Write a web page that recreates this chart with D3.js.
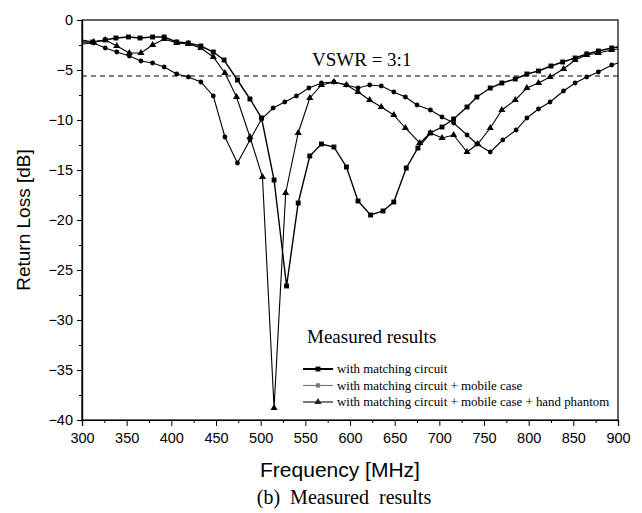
<!DOCTYPE html>
<html>
<head>
<meta charset="utf-8">
<script src="https://cdn.jsdelivr.net/npm/d3@7"></script>
<style>
  body { margin: 0; background: #fff; }
  svg { display: block; }
</style>
</head>
<body>
<svg id="chart" width="642" height="513"></svg>
<script>
// Measured return loss (MHz, dB)
const matchFreq = [300, 312, 326, 338, 352, 365, 379, 392, 406, 419, 433, 447, 459, 474, 488, 501, 515, 529, 542, 555, 568, 582, 596, 609, 623, 637, 649, 663, 676, 690, 703, 716, 731, 742, 757, 770, 785, 798, 811, 825, 838, 852, 865, 878, 893, 900];
const matchRL = [-2.2, -2.2, -2.0, -1.8, -1.7, -1.8, -1.7, -1.7, -2.2, -2.3, -2.6, -3.2, -4.0, -6.0, -7.9, -9.8, -16.0, -26.6, -18.3, -13.6, -12.4, -12.7, -14.7, -18.1, -19.5, -19.1, -18.2, -14.8, -12.8, -11.3, -10.7, -9.9, -8.7, -7.7, -6.8, -6.3, -5.9, -5.4, -5.1, -4.6, -4.2, -3.8, -3.4, -3.1, -2.8, -2.7];

const caseFreq = [300, 313, 326, 339, 353, 366, 379, 392, 406, 419, 433, 447, 460, 474, 488, 501, 514, 527, 540, 554, 568, 582, 596, 609, 622, 635, 649, 662, 675, 690, 703, 716, 731, 742, 757, 771, 786, 798, 811, 824, 839, 852, 865, 878, 893, 900];
const caseRL = [-2.4, -2.3, -2.8, -3.2, -3.6, -4.1, -4.3, -4.7, -5.4, -5.7, -6.2, -7.6, -11.7, -14.3, -12.0, -9.9, -8.8, -8.2, -7.6, -6.8, -6.3, -6.2, -6.5, -6.8, -6.5, -6.6, -7.2, -7.7, -8.5, -9.0, -9.7, -10.3, -11.5, -12.4, -13.2, -12.0, -11.0, -9.8, -8.9, -8.2, -7.1, -6.3, -5.7, -5.2, -4.5, -4.3];

const handFreq = [300, 313, 326, 339, 353, 366, 379, 392, 406, 419, 433, 447, 460, 473, 488, 502, 515, 528, 542, 555, 568, 582, 596, 609, 622, 635, 649, 662, 678, 690, 703, 716, 731, 743, 757, 770, 785, 798, 811, 824, 839, 852, 865, 878, 893, 900];
const handRL = [-2.0, -2.2, -2.0, -2.6, -3.3, -3.3, -2.5, -1.9, -2.3, -2.4, -2.8, -3.7, -5.3, -7.7, -11.7, -15.7, -38.8, -17.3, -11.3, -7.8, -6.5, -6.2, -6.5, -7.2, -8.0, -8.7, -9.5, -10.8, -12.3, -11.3, -11.8, -11.5, -13.2, -12.4, -10.8, -9.0, -8.0, -6.8, -6.3, -5.7, -4.9, -4.0, -3.5, -3.3, -3.0, -2.9];

const seriesNames = ["with matching circuit", "with matching circuit + mobile case", "with matching circuit + mobile case + hand phantom"];
const xTicks = [300, 350, 400, 450, 500, 550, 600, 650, 700, 750, 800, 850, 900];
const yTicks = [0, -5, -10, -15, -20, -25, -30, -35, -40];
const vswrLevel = -5.6;

const svg = d3.select("#chart"),
    margin = {top: 20, right: 24, bottom: 93, left: 82},
    width = 642 - margin.left - margin.right,
    height = 513 - margin.top - margin.bottom;

const g = svg.append("g").attr("transform", `translate(${margin.left},${margin.top})`);

const x = d3.scaleLinear().domain([300, 900]).range([0, width]);
const y = d3.scaleLinear().domain([-40, 0]).range([height, 0]);

const sansFont = "Liberation Sans, Arial, sans-serif";
const serifFont = "Liberation Serif, Times New Roman, serif";

// frame
g.append("rect")
  .attr("width", width).attr("height", height)
  .attr("fill", "none").attr("stroke", "#000").attr("stroke-width", 1.2);

// axes: major ticks outside, minor ticks in between
g.append("g").attr("transform", `translate(0,${height})`)
  .call(d3.axisBottom(x).tickValues(xTicks).tickSize(6).tickPadding(7).tickFormat(d3.format("d")));
g.append("g").attr("transform", `translate(0,${height})`)
  .call(d3.axisBottom(x).tickValues(d3.range(325, 900, 50)).tickSize(3).tickFormat(""));

g.append("g")
  .call(d3.axisLeft(y).tickValues(yTicks).tickSize(5).tickPadding(4).tickFormat(d3.format("d")));
g.append("g")
  .call(d3.axisLeft(y).tickValues(d3.range(-37.5, 0, 5)).tickSize(3).tickFormat(""));

g.selectAll(".domain").attr("stroke", "#000").attr("stroke-width", 1.2);
g.selectAll(".tick line").attr("stroke", "#000");
g.selectAll(".tick text").style("font-family", sansFont).style("font-size", "14.5px").attr("fill", "#000");

// VSWR = 3:1 reference line
g.append("line")
  .attr("x1", 0).attr("x2", width)
  .attr("y1", y(vswrLevel)).attr("y2", y(vswrLevel))
  .attr("stroke", "#000").attr("stroke-width", 1).attr("stroke-dasharray", "5,4");

g.append("text")
  .attr("x", 230).attr("y", y(vswrLevel) - 10)
  .style("font-family", serifFont).style("font-size", "19px")
  .text("VSWR = 3:1");

// series
const series = [
  {freq: matchFreq, rl: matchRL, marker: d3.symbolSquare, size: 24, lw: 1.4},
  {freq: caseFreq, rl: caseRL, marker: d3.symbolCircle, size: 18, lw: 1.1},
  {freq: handFreq, rl: handRL, marker: d3.symbolTriangle, size: 22, lw: 1.1}
];

const line = d3.line().x(d => x(d[0])).y(d => y(d[1]));

series.forEach(s => {
  const pts = s.freq.map((f, i) => [f, s.rl[i]]);
  g.append("path")
    .datum(pts)
    .attr("fill", "none")
    .attr("stroke", "#000")
    .attr("stroke-width", s.lw)
    .attr("d", line);
  g.selectAll(null)
    .data(pts.slice(1, -1))
    .enter()
    .append("path")
    .attr("transform", d => `translate(${x(d[0])},${y(d[1])})`)
    .attr("d", d3.symbol().type(s.marker).size(s.size))
    .attr("fill", "#000");
});

// legend
const legend = g.append("g").attr("transform", "translate(221,323)");
legend.append("text")
  .attr("x", 4).attr("y", 0)
  .style("font-family", serifFont).style("font-size", "19px")
  .text("Measured results");

const legendColors = ["#000", "#777", "#222"];
seriesNames.forEach((name, i) => {
  const ly = 26 + i * 16.5;
  legend.append("line")
    .attr("x1", 0).attr("x2", 30).attr("y1", ly).attr("y2", ly)
    .attr("stroke", legendColors[i]).attr("stroke-width", i === 0 ? 2 : 1.2);
  legend.append("path")
    .attr("transform", `translate(15,${ly})`)
    .attr("d", d3.symbol().type(series[i].marker).size(series[i].size))
    .attr("fill", legendColors[i]);
  legend.append("text")
    .attr("x", 34).attr("y", ly + 4)
    .style("font-family", serifFont).style("font-size", "12.9px")
    .text(name);
});

// axis titles
svg.append("text")
  .attr("x", 340).attr("y", 477)
  .attr("text-anchor", "middle")
  .style("font-family", sansFont).style("font-size", "21px")
  .text("Frequency [MHz]");

svg.append("text")
  .attr("transform", `translate(30,${margin.top + height / 2}) rotate(-90)`)
  .attr("text-anchor", "middle")
  .style("font-family", sansFont).style("font-size", "19px")
  .text("Return Loss [dB]");

svg.append("text")
  .attr("x", 344).attr("y", 504)
  .attr("text-anchor", "middle")
  .style("font-family", serifFont).style("font-size", "20px")
  .style("white-space", "pre")
  .text("(b)  Measured  results");
</script>
</body>
</html>
